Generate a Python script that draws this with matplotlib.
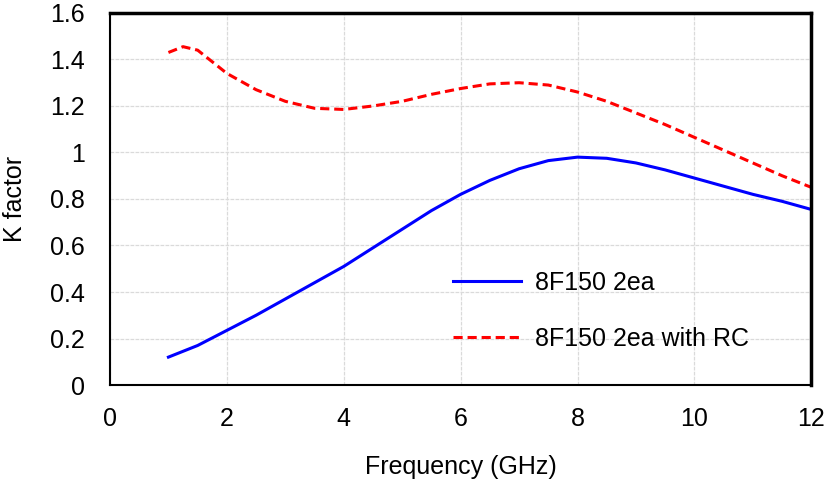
import numpy as np
import matplotlib.pyplot as plt
from matplotlib.ticker import FuncFormatter

plt.rcParams['font.family'] = ['Liberation Sans', 'DejaVu Sans']

freq = [1, 1.5, 2, 2.5, 3, 3.5, 4, 4.5, 5, 5.5, 6, 6.5, 7, 7.5, 8, 8.5,
        9, 9.5, 10, 10.5, 11, 11.5, 12]
k_2ea = [0.12, 0.17, 0.235, 0.30, 0.37, 0.44, 0.51, 0.59, 0.67, 0.75, 0.82,
         0.88, 0.93, 0.965, 0.98, 0.975, 0.955, 0.925, 0.89, 0.855, 0.82,
         0.79, 0.755]

freq_rc = [1, 1.25, 1.5, 2, 2.5, 3, 3.5, 4, 4.5, 5, 5.5, 6, 6.5, 7, 7.5, 8,
           8.5, 9, 9.5, 10, 10.5, 11, 11.5, 12]
k_rc = [1.43, 1.455, 1.44, 1.34, 1.27, 1.22, 1.19, 1.185, 1.20, 1.22, 1.25,
        1.275, 1.295, 1.30, 1.29, 1.26, 1.22, 1.17, 1.12, 1.065, 1.01, 0.955,
        0.90, 0.85]

fs = 18

fig = plt.figure(figsize=(8.27, 4.87), dpi=100)
ax = fig.add_axes([0.133, 0.2094, 0.848, 0.764])

ax.plot(freq, k_2ea, color="#0000ff", lw=2.2, label="8F150 2ea")
ax.plot(freq_rc, k_rc, color="#ff0000", lw=2.2, linestyle=(0, (3, 1.6)),
        label="8F150 2ea with RC")

ax.set_xlim(0, 12)
ax.set_ylim(0, 1.6)
ax.set_xticks(np.arange(0, 13, 2))
ax.set_yticks(np.arange(0, 1.61, 0.2))
ax.yaxis.set_major_formatter(FuncFormatter(lambda v, p: "%g" % round(v, 1)))
ax.tick_params(length=0, labelsize=fs)
ax.tick_params(axis="y", pad=18)
ax.tick_params(axis="x", pad=16)
ax.grid(True, color="#dadada", lw=0.9, linestyle=(0, (3, 1)))
ax.set_axisbelow(True)

for s in ["left", "bottom"]:
    ax.spines[s].set_linewidth(1.5)
for s in ["top", "right"]:
    ax.spines[s].set_linewidth(2.5)

ax.set_xlabel("Frequency (GHz)", fontsize=fs, labelpad=17)
ax.set_ylabel("K factor", fontsize=fs, labelpad=17)

ax.legend(loc="center left", bbox_to_anchor=(0.5478, 0.3624),
          bbox_transform=fig.transFigure, frameon=False, fontsize=fs,
          borderpad=0, borderaxespad=0, handlelength=2.72,
          labelspacing=1.28, handletextpad=0.56)

fig.savefig("out.png")
